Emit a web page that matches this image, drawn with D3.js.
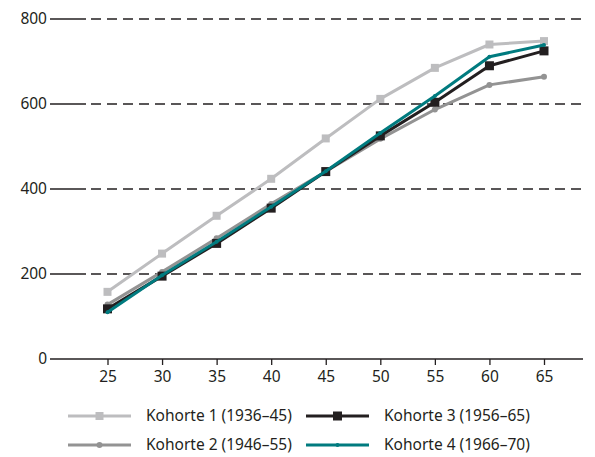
<!DOCTYPE html>
<html><head><meta charset="utf-8">
<script src="https://cdn.jsdelivr.net/npm/d3@7/dist/d3.min.js"></script>
<style>body{margin:0;background:#fff}svg{display:block}text{font-family:"Noto Sans",sans-serif;fill:#231f20}</style>
</head><body><div id="c"></div>
<script>
const ages = [25,30,35,40,45,50,55,60,65];
const yTicks = [0,200,400,600,800];
const k1 = [158,248,337,424,519,612,685,740,748];
const k2 = [128,205,284,365,441,518,587,645,664];
const k3 = [118,195,272,355,441,525,604,690,725];
const k4 = [110,197,276,358,442,532,619,711,739];
const seriesNames = ["Kohorte 1 (1936–45)","Kohorte 2 (1946–55)","Kohorte 3 (1956–65)","Kohorte 4 (1966–70)"];

const series = [
  {name:seriesNames[0], vals:k1, color:"#bdbdbf", marker:"square", ms:8},
  {name:seriesNames[1], vals:k2, color:"#939393", marker:"circle", ms:3},
  {name:seriesNames[2], vals:k3, color:"#231f20", marker:"square", ms:9},
  {name:seriesNames[3], vals:k4, color:"#007b7f", marker:"circle", ms:2}
];

const W=595,H=457, FS=15.5;
const svg=d3.select("#c").append("svg").attr("width",W).attr("height",H);
const x=d3.scaleLinear().domain([25,65]).range([107.5,544]);
const y=d3.scaleLinear().domain([0,800]).range([359,19]);
const axL=50, axR=583;

// gridlines
const g=svg.append("g");
yTicks.filter(v=>v>0).forEach(v=>{
  g.append("line").attr("x1",axL).attr("x2",86).attr("y1",y(v)).attr("y2",y(v)).attr("stroke","#231f20").attr("stroke-width",1.3);
  g.append("line").attr("x1",91).attr("x2",axR).attr("y1",y(v)).attr("y2",y(v)).attr("stroke","#231f20").attr("stroke-width",1.3).attr("stroke-dasharray","10,6");
});
svg.append("line").attr("x1",axL).attr("x2",axR).attr("y1",y(0)).attr("y2",y(0)).attr("stroke","#231f20").attr("stroke-width",1.3);

// y labels
svg.append("g").selectAll("text").data(yTicks).join("text")
  .attr("x",47).attr("y",d=>y(d)).attr("dy","0.35em").attr("text-anchor","end")
  .attr("font-size",FS).text(d=>d);

// x axis
const xa=d3.axisBottom(x).tickValues(ages).tickSize(6).tickPadding(6).tickFormat(d=>d);
const xg=svg.append("g").attr("transform",`translate(0,${y(0)})`).call(xa);
xg.select(".domain").remove();
xg.selectAll("line").attr("stroke","#231f20").attr("stroke-width",1.3);
xg.selectAll("text").attr("font-size",FS).attr("font-family","Noto Sans").attr("fill","#231f20");

// lines
const line=d3.line().x((d,i)=>x(ages[i])).y(d=>y(d));
function marker(sel,s,cx,cy){
  if(s.marker==="square"){
    sel.append("rect").attr("x",cx-s.ms/2).attr("y",cy-s.ms/2).attr("width",s.ms).attr("height",s.ms).attr("fill",s.color);
  } else {
    sel.append("circle").attr("cx",cx).attr("cy",cy).attr("r",s.ms).attr("fill",s.color);
  }
}
[0,1,2,3].forEach(i=>{
  const s=series[i];
  const gg=svg.append("g");
  gg.append("path").attr("d",line(s.vals)).attr("fill","none").attr("stroke",s.color).attr("stroke-width",3).attr("stroke-linejoin","round");
  s.vals.forEach((v,j)=>marker(gg,s,x(ages[j]),y(v)));
});

// legend
const legPos=[[68,416],[68,445],[306,416],[306,445]];
series.forEach((s,i)=>{
  const [lx,ly]=legPos[i];
  const lg=svg.append("g");
  lg.append("line").attr("x1",lx).attr("x2",lx+63).attr("y1",ly).attr("y2",ly).attr("stroke",s.color).attr("stroke-width",3);
  marker(lg,s,lx+31.5,ly);
  lg.append("text").attr("x",lx+78).attr("y",ly).attr("dy","0.35em").attr("font-size",FS).text(s.name);
});
</script></body></html>
